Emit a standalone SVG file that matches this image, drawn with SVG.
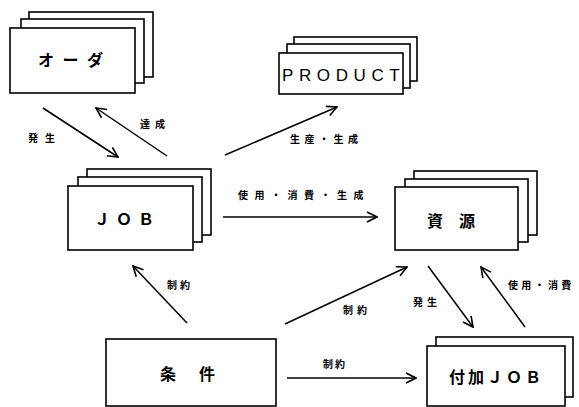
<svg xmlns="http://www.w3.org/2000/svg" width="579" height="407" viewBox="0 0 579 407">
<style>
.box{fill:#fff;stroke:#000;stroke-width:1.6}
.ln{fill:none;stroke:#000;stroke-width:1.5;marker-end:url(#ah)}
.jp{font-family:"Noto Sans CJK JP","Noto Sans",sans-serif;font-size:16px;font-weight:bold;fill:#000}
.en{font-family:"Liberation Sans",Arial,sans-serif;font-size:17px;fill:#000}
.lbl{font-family:"Noto Sans CJK JP","Noto Sans",sans-serif;font-size:10px;font-weight:bold;fill:#000}
</style>
<defs>
<marker id="ah" viewBox="0 0 12 12" refX="11" refY="6" markerWidth="12" markerHeight="12" markerUnits="userSpaceOnUse" orient="auto">
<path d="M1,1 L11,6 L1,11" fill="none" stroke="#000" stroke-width="1.6"/>
</marker>
</defs>
<rect width="579" height="407" fill="#fff"/>
<g id="order">
<rect class="box" x="29" y="12" width="124" height="65"/>
<rect class="box" x="21" y="19" width="123" height="64"/>
<rect class="box" x="10" y="28" width="125" height="65"/>
<text class="jp" x="38" y="66" letter-spacing="8.5">オーダ</text>
</g>
<g id="product">
<rect class="box" x="294" y="37" width="123" height="44"/>
<rect class="box" x="287" y="44" width="123" height="44"/>
<rect class="box" x="279" y="53" width="124" height="41"/>
<text class="en" x="282" y="81" letter-spacing="5.6">PRODUCT</text>
</g>
<g id="job">
<rect class="box" x="87" y="169" width="124" height="66"/>
<rect class="box" x="78" y="177" width="124" height="65"/>
<rect class="box" x="68" y="186" width="125" height="64"/>
<text class="jp" x="94" y="225" letter-spacing="6" font-weight="normal">ＪＯＢ</text>
</g>
<g id="resource">
<rect class="box" x="414" y="171" width="123" height="64"/>
<rect class="box" x="405" y="179" width="123" height="63"/>
<rect class="box" x="395" y="187" width="123" height="63"/>
<text class="jp" x="427" y="227">資　源</text>
</g>
<g id="condition">
<rect class="box" x="106" y="339" width="170" height="67"/>
<text class="jp" x="160" y="380" letter-spacing="3.5">条　件</text>
</g>
<g id="addjob">
<rect class="box" x="436" y="337" width="137" height="60"/>
<rect class="box" x="427" y="346" width="138" height="60"/>
<text class="jp" x="449" y="383" letter-spacing="3" font-weight="normal">付加ＪＯＢ</text>
</g>
<g id="connectors">
<line class="ln" x1="43" y1="108" x2="118" y2="157"/>
<line class="ln" x1="167" y1="156" x2="96" y2="108"/>
<line class="ln" x1="225" y1="155" x2="337" y2="107"/>
<line class="ln" x1="223" y1="217" x2="377" y2="217"/>
<line class="ln" x1="187" y1="323" x2="133" y2="266"/>
<line class="ln" x1="285" y1="324" x2="407" y2="267"/>
<line class="ln" x1="428" y1="266" x2="473" y2="327"/>
<line class="ln" x1="525" y1="327" x2="481" y2="267"/>
<line class="ln" x1="287" y1="378" x2="416" y2="378"/>
<text class="lbl" x="28" y="142" letter-spacing="7">発生</text>
<text class="lbl" x="140" y="128" letter-spacing="5">達成</text>
<text class="lbl" x="290" y="143" letter-spacing="4.5">生産・生成</text>
<text class="lbl" x="238" y="199" letter-spacing="6.5">使用・消費・生成</text>
<text class="lbl" x="167" y="289" letter-spacing="3">制約</text>
<text class="lbl" x="343" y="314" letter-spacing="4">制約</text>
<text class="lbl" x="413" y="306" letter-spacing="4">発生</text>
<text class="lbl" x="508" y="289" letter-spacing="3.3">使用・消費</text>
<text class="lbl" x="323" y="368" letter-spacing="2">制約</text>
</g>
</svg>
